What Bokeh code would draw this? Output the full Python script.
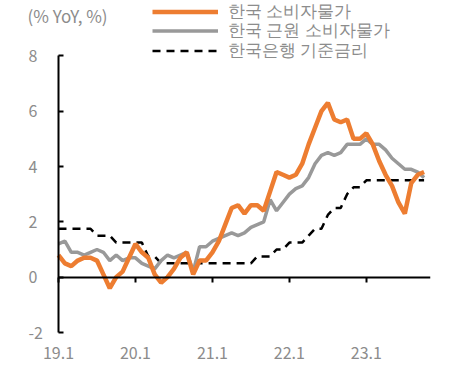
import numpy as np
from bokeh.plotting import figure
from bokeh.models import (FixedTicker, LinearAxis, Legend, LegendItem, Label, Range1d)
from bokeh.embed import file_html
from bokeh.resources import INLINE

# ---- data (monthly, 2019.1 - 2023.10) ----
cpi = [0.8, 0.5, 0.4, 0.6, 0.7, 0.7, 0.6, 0.1, -0.4, 0.0, 0.2, 0.7,
       1.2, 0.9, 0.7, 0.1, -0.2, 0.0, 0.3, 0.7, 0.9, 0.1, 0.6, 0.6,
       0.9, 1.3, 1.9, 2.5, 2.6, 2.3, 2.6, 2.6, 2.4, 3.1, 3.8, 3.7,
       3.6, 3.7, 4.1, 4.8, 5.4, 6.0, 6.3, 5.7, 5.6, 5.7, 5.0, 5.0,
       5.2, 4.8, 4.2, 3.7, 3.3, 2.7, 2.3, 3.4, 3.7, 3.8]
core = [1.2, 1.3, 0.9, 0.9, 0.8, 0.9, 1.0, 0.9, 0.6, 0.8, 0.6, 0.7,
        0.7, 0.5, 0.4, 0.3, 0.6, 0.8, 0.7, 0.8, 0.9, 0.2, 1.1, 1.1,
        1.3, 1.4, 1.5, 1.6, 1.5, 1.6, 1.8, 1.9, 2.0, 2.8, 2.4, 2.7,
        3.0, 3.2, 3.3, 3.6, 4.1, 4.4, 4.5, 4.4, 4.5, 4.8, 4.8, 4.8,
        5.0, 4.8, 4.8, 4.6, 4.3, 4.1, 3.9, 3.9, 3.8, 3.6]
base_rate = [1.75, 1.75, 1.75, 1.75, 1.75, 1.75, 1.5, 1.5, 1.5, 1.25, 1.25, 1.25,
             1.25, 1.25, 0.75, 0.75, 0.5, 0.5, 0.5, 0.5, 0.5, 0.5, 0.5, 0.5,
             0.5, 0.5, 0.5, 0.5, 0.5, 0.5, 0.5, 0.75, 0.75, 0.75, 1.0, 1.0,
             1.25, 1.25, 1.25, 1.5, 1.75, 1.75, 2.25, 2.5, 2.5, 3.0, 3.25, 3.25,
             3.5, 3.5, 3.5, 3.5, 3.5, 3.5, 3.5, 3.5, 3.5, 3.5]
tick_pos = [0, 12, 24, 36, 48]
tick_labels = ["19.1", "20.1", "21.1", "22.1", "23.1"]
y_ticks = [-2, 0, 2, 4, 6, 8]
y_tick_labels = ["-2", "0", "2", "4", "6", "8"]
series_names = ["한국 소비자물가", "한국 근원 소비자물가", "한국은행 기준금리"]
unit_label = "(% YoY, %)"

x = np.arange(len(cpi))

FONT = "Noto Sans CJK KR"
LEG_FONT = "Lato"   # Korean glyphs fall back to the CJK font
TXT = "#8c8c8c"

# frame spans from the canvas' left edge; data start (x=0) sits 58px in
p = figure(width=474, height=378, output_backend="svg", toolbar_location=None,
           x_range=Range1d(-9.04, 58), y_range=Range1d(-2.289, 10),
           y_axis_location="right",
           min_border_left=0, min_border_right=44, min_border_top=0,
           min_border_bottom=38)
p.outline_line_color = None
p.grid.visible = False
p.background_fill_color = "white"
p.border_fill_color = "white"

# y axis drawn at x = 0 (data), labels to its left
ya = p.yaxis[0]
ya.fixed_location = 0
ya.ticker = FixedTicker(ticks=y_ticks)
ya.major_label_overrides = {t: l for t, l in zip(y_ticks, y_tick_labels)}
ya.bounds = (-2, 8)
ya.axis_line_color = "black"
ya.axis_line_width = 2
ya.major_tick_in = 0
ya.major_tick_out = 5
ya.major_tick_line_width = 2
ya.minor_tick_line_color = None
ya.major_label_standoff = -35
ya.major_label_text_font = FONT
ya.major_label_text_font_size = "16px"
ya.major_label_text_color = TXT

# x axis line at zero with ticks (no labels)
xa = p.xaxis[0]
xa.fixed_location = 0
xa.bounds = (0, 58)
xa.ticker = FixedTicker(ticks=tick_pos)
xa.major_label_overrides = {t: "" for t in tick_pos}
xa.axis_line_color = "black"
xa.axis_line_width = 2
xa.major_tick_in = 0
xa.major_tick_out = 5
xa.major_tick_line_width = 2
xa.minor_tick_line_color = None
xa.major_label_standoff = 0

# x labels axis at bottom
xl = LinearAxis(ticker=FixedTicker(ticks=tick_pos), bounds=(0, 58),
                major_label_overrides={t: l for t, l in zip(tick_pos, tick_labels)})
xl.axis_line_color = None
xl.major_tick_line_color = None
xl.minor_tick_line_color = None
xl.major_label_standoff = 0
xl.major_label_text_font = FONT
xl.major_label_text_font_size = "16px"
xl.major_label_text_color = TXT
p.add_layout(xl, "below")

r_rate = p.line(x, base_rate, line_color="black", line_width=2.5, line_dash="8 6")
r_core = p.line(x, core, line_color="#999999", line_width=3.5)
r_cpi = p.line(x, cpi, line_color="#ED7D31", line_width=4.5)

# one legend per entry, stacked at the top
legend_y = [317, 298, 278]
for name, rend, ly in zip(series_names, [r_cpi, r_core, r_rate], legend_y):
    lg = Legend(items=[LegendItem(label=name, renderers=[rend])],
                location=(152, ly), orientation="vertical",
                glyph_width=66, glyph_height=21, label_height=21, spacing=0,
                padding=0, margin=0, label_standoff=10,
                border_line_color=None, background_fill_alpha=0,
                label_text_font=LEG_FONT, label_text_font_size="17px",
                label_text_line_height=1.0,
                label_text_color=TXT, label_text_baseline="middle")
    p.add_layout(lg, "center")

lab = Label(x=27, y=325, x_units="screen", y_units="screen", text=unit_label,
            text_font=FONT, text_font_size="17px", text_color=TXT,
            text_baseline="middle")
p.add_layout(lab)

open("out.html", "w").write(file_html(p, INLINE))
